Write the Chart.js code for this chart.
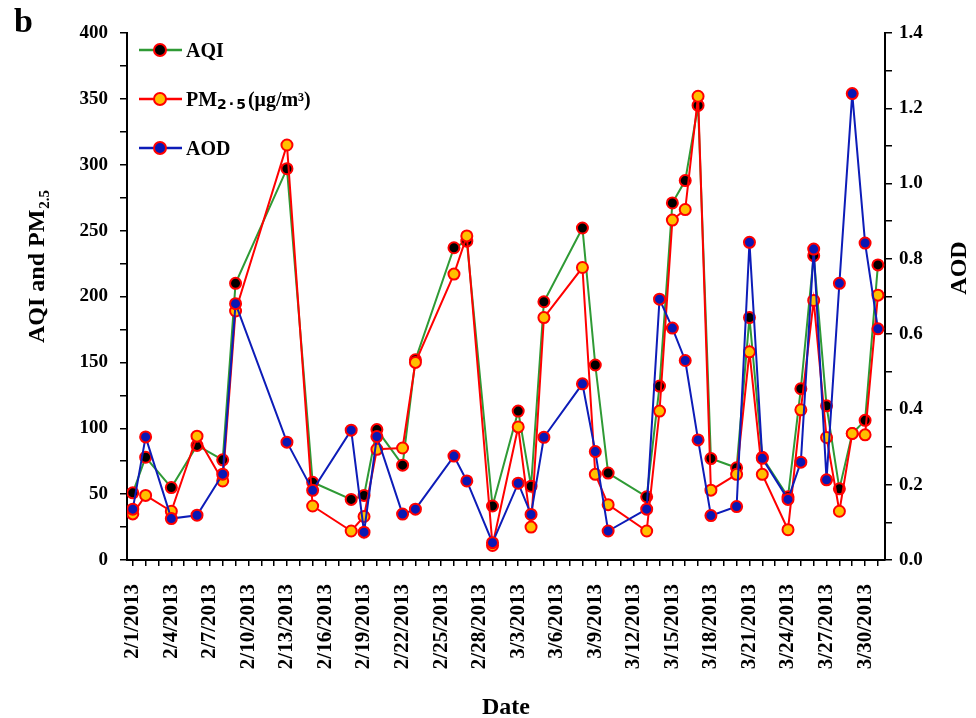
<!DOCTYPE html>
<html>
<head>
<meta charset="utf-8">
<script src="https://cdn.jsdelivr.net/npm/chart.js@4.4.1/dist/chart.umd.min.js"></script>
<style>
  html, body { margin: 0; padding: 0; background: #fff; }
  #wrap { width: 976px; height: 718px; position: relative; }
</style>
</head>
<body>
<div id="wrap"><canvas id="chart"></canvas></div>
<script>
// sampling dates (month/day/year)
const dates = ['2/1/2013', '2/2/2013', '2/4/2013', '2/6/2013', '2/8/2013', '2/9/2013', '2/13/2013', '2/15/2013',
    '2/18/2013', '2/19/2013', '2/20/2013', '2/22/2013', '2/23/2013', '2/26/2013', '2/27/2013', '3/1/2013',
    '3/3/2013', '3/4/2013', '3/5/2013', '3/8/2013', '3/9/2013', '3/10/2013', '3/13/2013', '3/14/2013',
    '3/15/2013', '3/16/2013', '3/17/2013', '3/18/2013', '3/20/2013', '3/21/2013', '3/22/2013', '3/24/2013',
    '3/25/2013', '3/26/2013', '3/27/2013', '3/28/2013', '3/29/2013', '3/30/2013', '3/31/2013'];

const aqi = [51, 78, 55, 87, 76, 210, 297, 59, 46, 49, 99, 72, 152, 237, 242, 41,
    113, 56, 196, 252, 148, 66, 48, 132, 271, 288, 345, 77, 70, 184, 78, 48,
    130, 231, 117, 54, 96, 106, 224];

const pm25 = [35, 49, 37, 94, 60, 189, 315, 41, 22, 33, 84, 85, 150, 217, 246, 11,
    101, 25, 184, 222, 65, 42, 22, 113, 258, 266, 352, 53, 65, 158, 65, 23,
    114, 197, 93, 37, 96, 95, 201];

const aod = [0.135, 0.327, 0.110, 0.119, 0.228, 0.681, 0.313, 0.185, 0.345, 0.074, 0.328, 0.122, 0.135, 0.276, 0.210, 0.046,
    0.204, 0.121, 0.326, 0.468, 0.288, 0.077, 0.135, 0.693, 0.616, 0.530, 0.319, 0.118, 0.142, 0.844, 0.270, 0.161,
    0.260, 0.826, 0.213, 0.735, 1.239, 0.842, 0.614];

// labelled x ticks
const xTickLabels = ['2/1/2013', '2/4/2013', '2/7/2013', '2/10/2013', '2/13/2013', '2/16/2013', '2/19/2013',
    '2/22/2013', '2/25/2013', '2/28/2013', '3/3/2013', '3/6/2013', '3/9/2013', '3/12/2013', '3/15/2013',
    '3/18/2013', '3/21/2013', '3/24/2013', '3/27/2013', '3/30/2013'];

const xTitle = 'Date';
const yTitle = 'AQI and PM';
const yTitleSub = '2.5';
const y2Title = 'AOD';
const panelLetter = 'b';

const serif = '"Liberation Serif", "Times New Roman", serif';
const start = new Date(2013, 1, 1);

function dayIndex(s) {
    const [m, d, y] = s.split('/').map(Number);
    return Math.round((new Date(y, m - 1, d) - start) / 86400000);
}

function dayLabel(v) {
    const d = new Date(2013, 1, 1 + Math.round(v));
    return `${d.getMonth() + 1}/${d.getDate()}/${d.getFullYear()}`;
}

const xs = dates.map(dayIndex);
const lastDay = dayIndex('3/31/2013');

// legend texts: [text, font, baseline shift]
const legendParts = {
    'AQI': [['AQI', 'bold 20px ' + serif, 0]],
    'PM2.5': [['PM', 'bold 20px ' + serif, 0], ['2', 'bold 14px "DejaVu Sans"', 3], ['·', 'bold 14px "DejaVu Sans"', 3],
        ['5', 'bold 14px "DejaVu Sans"', 3], ['(μg/m³)', 'bold 20px ' + serif, 0]],
    'AOD': [['AOD', 'bold 20px ' + serif, 0]]
};

const decorPlugin = {
    id: 'decor',
    afterDraw(chart) {
        const ctx = chart.ctx;
        const area = chart.chartArea;
        ctx.save();
        ctx.fillStyle = '#000';
        ctx.textBaseline = 'alphabetic';

        ctx.font = 'bold 34px ' + serif;
        ctx.textAlign = 'left';
        ctx.fillText(panelLetter, 14, 32);

        ctx.font = 'bold 24px ' + serif;
        ctx.textAlign = 'center';
        ctx.fillText(xTitle, (area.left + area.right) / 2, 714);

        // left axis title with subscript
        ctx.save();
        ctx.translate(44, 343);
        ctx.rotate(-Math.PI / 2);
        ctx.textAlign = 'left';
        ctx.font = 'bold 24px ' + serif;
        ctx.fillText(yTitle, 0, 0);
        const w = ctx.measureText(yTitle).width;
        ctx.font = 'bold 15px ' + serif;
        ctx.fillText(yTitleSub, w + 1, 5);
        ctx.restore();

        ctx.save();
        ctx.translate(966, 268);
        ctx.rotate(-Math.PI / 2);
        ctx.textAlign = 'center';
        ctx.font = 'bold 24px ' + serif;
        ctx.fillText(y2Title, 0, 0);
        ctx.restore();

        // legend
        chart.data.datasets.forEach((ds, i) => {
            const y = 50 + i * 49;
            ctx.strokeStyle = ds.borderColor;
            ctx.lineWidth = 2.5;
            ctx.beginPath();
            ctx.moveTo(139, y);
            ctx.lineTo(182, y);
            ctx.stroke();
            ctx.beginPath();
            ctx.arc(160, y, 6, 0, Math.PI * 2);
            ctx.fillStyle = ds.pointBackgroundColor;
            ctx.fill();
            ctx.strokeStyle = ds.pointBorderColor;
            ctx.lineWidth = 2;
            ctx.stroke();
            ctx.fillStyle = '#000';
            ctx.textAlign = 'left';
            let x = 186;
            legendParts[ds.label].forEach(([t, f, dy]) => {
                ctx.font = f;
                ctx.fillText(t, x, y + 7 + dy);
                x += ctx.measureText(t).width + (dy ? 2 : 0);
            });
        });
        ctx.restore();
    }
};

const pts = vals => vals.map((v, i) => ({ x: xs[i], y: v }));

const tickFont = { family: serif, size: 19, weight: 'bold' };

new Chart(document.getElementById('chart'), {
    type: 'line',
    data: {
        datasets: [{
            label: 'AQI',
            data: pts(aqi),
            yAxisID: 'y',
            borderColor: '#2f9a35',
            borderWidth: 2,
            pointBackgroundColor: '#000000',
            pointBorderColor: '#ff0000',
            pointBorderWidth: 2,
            pointRadius: 5.5,
            order: 3
        }, {
            label: 'PM2.5',
            data: pts(pm25),
            yAxisID: 'y',
            borderColor: '#ff0000',
            borderWidth: 2,
            pointBackgroundColor: '#ffc000',
            pointBorderColor: '#ff0000',
            pointBorderWidth: 2,
            pointRadius: 5.5,
            order: 2
        }, {
            label: 'AOD',
            data: pts(aod),
            yAxisID: 'y2',
            borderColor: '#0d1cb8',
            borderWidth: 2,
            pointBackgroundColor: '#0a18b4',
            pointBorderColor: '#ff0000',
            pointBorderWidth: 2,
            pointRadius: 5.5,
            order: 1
        }]
    },
    options: {
        responsive: true,
        maintainAspectRatio: false,
        animation: false,
        layout: { padding: { top: 33, left: 0, right: 0, bottom: 0 } },
        plugins: { legend: { display: false }, tooltip: { enabled: false } },
        scales: {
            x: {
                type: 'linear',
                min: -0.45,
                max: lastDay + 0.55,
                afterBuildTicks: scale => {
                    const t = [];
                    for (let d = 0; d <= lastDay; d++) t.push({ value: d });
                    scale.ticks = t;
                },
                afterFit: scale => { scale.height = 158; },
                ticks: {
                    autoSkip: false,
                    minRotation: 90,
                    maxRotation: 90,
                    padding: 18,
                    color: '#000',
                    font: { family: serif, size: 21, weight: 'bold' },
                    callback: v => xTickLabels.includes(dayLabel(v)) ? dayLabel(v) : ''
                },
                grid: { drawOnChartArea: false, drawTicks: true, tickLength: 6, color: '#000', lineWidth: 1.5 },
                border: { display: true, color: '#000', width: 2 }
            },
            y: {
                position: 'left',
                min: 0,
                max: 400,
                afterFit: scale => { scale.width = 127; },
                ticks: {
                    stepSize: 25,
                    padding: 12,
                    color: '#000',
                    font: tickFont,
                    callback: v => v % 50 === 0 ? v : ''
                },
                grid: { drawOnChartArea: false, drawTicks: true, tickLength: 7, color: '#000', lineWidth: 1.5 },
                border: { display: true, color: '#000', width: 2 }
            },
            y2: {
                position: 'right',
                min: 0,
                max: 1.4,
                afterFit: scale => { scale.width = 91; },
                ticks: {
                    stepSize: 0.1,
                    padding: 7,
                    color: '#000',
                    font: tickFont,
                    callback: v => Math.round(v * 10) % 2 === 0 ? (Math.round(v * 10) / 10).toFixed(1) : ''
                },
                grid: { drawOnChartArea: false, drawTicks: true, tickLength: 7, color: '#000', lineWidth: 1.5 },
                border: { display: true, color: '#000', width: 2 }
            }
        }
    },
    plugins: [decorPlugin]
});
</script>
</body>
</html>
